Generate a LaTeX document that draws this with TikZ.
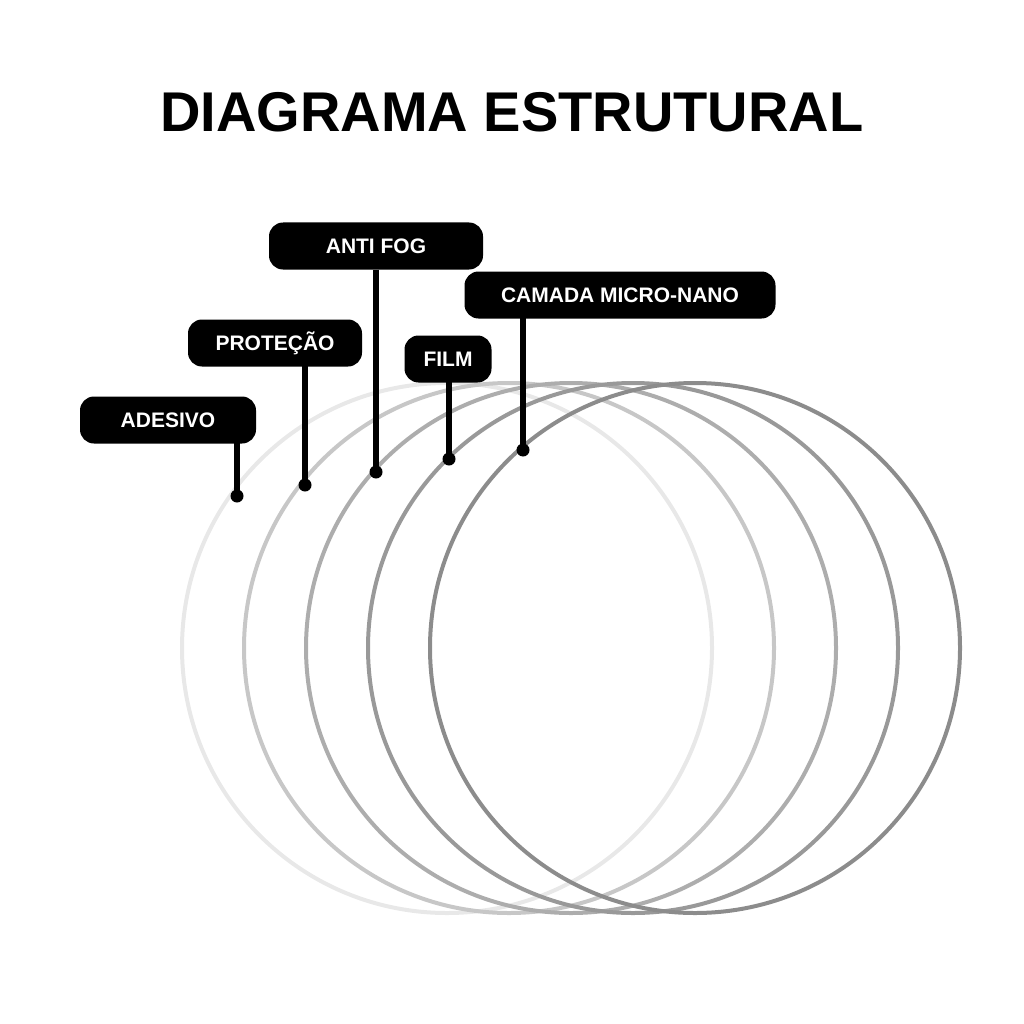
\documentclass[tikz,border=0pt]{standalone}
\usepackage{fontspec}
\setmainfont{Liberation Sans}
\begin{document}
\begin{tikzpicture}[x=1pt,y=-1pt,
  pill/.style={fill=black,text=white,rounded corners=14pt,font=\fontsize{21}{24}\selectfont\bfseries,inner sep=0pt,minimum height=47pt},
  stem/.style={line width=6pt},
  ring/.style={line width=4pt},
  dotc/.style={circle,fill=black,inner sep=0pt,minimum size=13pt}]
\useasboundingbox (0,0) rectangle (1024,1024);
\node[font=\fontsize{56}{60}\selectfont\bfseries] (title) at (512,112) {DIAGRAMA ESTRUTURAL};
\draw[ring,black!9] (447,648) circle (265);
\draw[ring,black!22] (509,648) circle (265);
\draw[ring,black!32] (571,648) circle (265);
\draw[ring,black!40] (633,648) circle (265);
\draw[ring,black!45] (695,648) circle (265);
\node[pill,minimum width=176pt] (a) at (168,420) {ADESIVO};
\node[pill,minimum width=174pt] (p) at (275,343) {PROTEÇÃO};
\node[pill,minimum width=214pt] (f) at (376,246) {ANTI FOG};
\node[pill,minimum width=87pt] (m) at (448,359) {FILM};
\node[pill,minimum width=311pt] (c) at (620,295) {CAMADA MICRO-NANO};
\node[dotc] (da) at (237,496) {};
\node[dotc] (dp) at (305,485) {};
\node[dotc] (df) at (376,472) {};
\node[dotc] (dm) at (449,459) {};
\node[dotc] (dc) at (523,450) {};
\draw[stem] (237,443) -- (da.center);
\draw[stem] (305,366) -- (dp.center);
\draw[stem] (f.south) -- (df.center);
\draw[stem] (449,381) -- (dm.center);
\draw[stem] (523,318) -- (dc.center);
\end{tikzpicture}
\end{document}
